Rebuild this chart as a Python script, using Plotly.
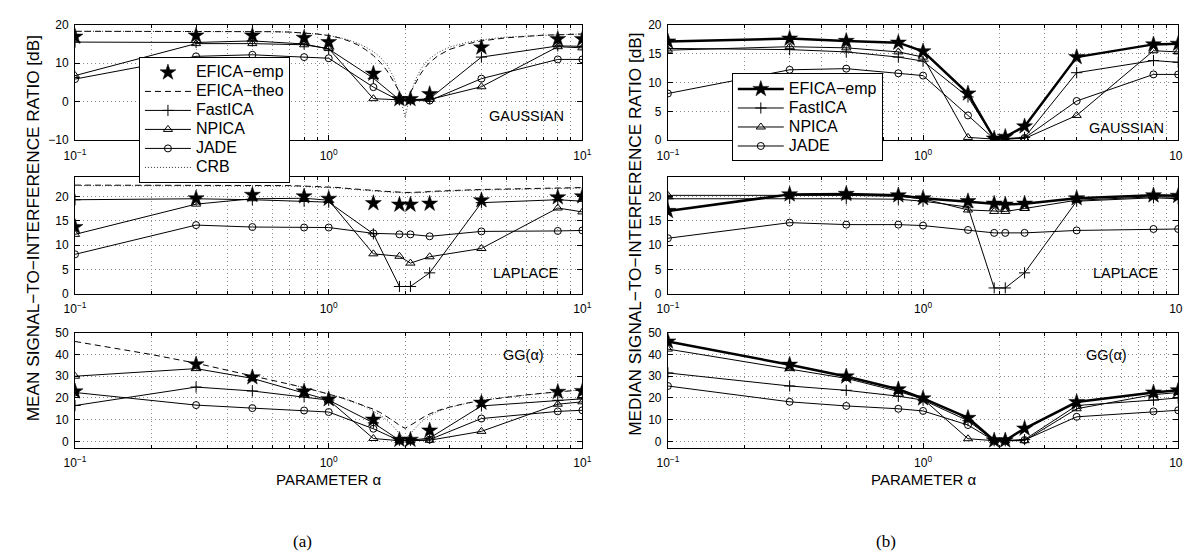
import plotly.graph_objects as go

W, H = 1191, 557

alpha = [0.1, 0.3, 0.5, 0.8, 1.0, 1.5, 1.9, 2.1, 2.5, 4.0, 8.0, 10.0]
alpha_theo = [0.1, 0.2, 0.3, 0.4, 0.5, 0.6, 0.7, 0.8, 0.9, 1.0, 1.1, 1.2, 1.3, 1.4, 1.5, 1.6, 1.7,
              1.8, 1.9, 2.0, 2.1, 2.2, 2.3, 2.4, 2.5, 2.7, 3.0, 3.5, 4.0, 5.0, 6.0, 7.0, 8.0, 9.0, 10.0]

x_tickvals = [0.1, 1, 10]
x_ticktext = ["10<sup>−1</sup>", "10<sup>0</sup>", "10<sup>1</sup>"]
x_minor = [0.2, 0.3, 0.4, 0.5, 0.6, 0.7, 0.8, 0.9, 2, 3, 4, 5, 6, 7, 8, 9]

# ---------- (a) MEAN ----------
mean_gauss_efica = [16.9, 17.2, 17.2, 16.6, 15.5, 7.3, 0.7, 0.7, 2.0, 14.1, 16.3, 16.3]
mean_gauss_fastica = [15.5, 15.4, 15.8, 15.0, 13.7, 6.1, 0.5, 0.5, 0.8, 11.6, 14.5, 14.4]
mean_gauss_npica = [6.8, 15.1, 15.1, 14.8, 13.8, 0.8, 0.5, 0.5, 0.6, 3.9, 14.3, 14.0]
mean_gauss_jade = [5.9, 11.8, 12.2, 11.6, 11.3, 3.8, 0.3, 0.3, 0.3, 6.0, 11.0, 11.0]
mean_gauss_theo = [18.3, 18.3, 18.3, 18.3, 18.3, 18.2, 18.1, 17.9, 17.6, 17.2, 16.6, 15.8, 14.8, 13.5,
                   12.0, 10.2, 8.0, 5.3, 2.4, 0.0, 2.4, 5.0, 7.2, 8.9, 10.2, 12.0, 13.6, 15.0, 15.8,
                   16.6, 17.0, 17.3, 17.4, 17.5, 17.6]
mean_gauss_crb = [18.3, 18.3, 18.3, 18.3, 18.3, 18.2, 18.1, 17.9, 17.6, 17.2, 16.7, 16.0, 15.2, 14.2,
                  13.0, 11.5, 9.5, 6.5, 2.0, -4.0, 2.0, 5.8, 8.3, 10.0, 11.2, 12.8, 14.2, 15.4, 16.1,
                  16.8, 17.1, 17.3, 17.4, 17.5, 17.6]

mean_lap_efica = [13.7, 19.6, 20.3, 20.0, 19.5, 18.6, 18.3, 18.3, 18.5, 19.2, 19.8, 20.0]
mean_lap_fastica = [19.3, 19.5, 19.3, 19.0, 18.8, 12.3, 1.5, 1.5, 4.3, 18.7, 19.3, 19.0]
mean_lap_npica = [12.2, 18.4, 19.5, 19.6, 19.2, 8.2, 7.7, 6.3, 7.6, 9.3, 17.6, 16.8]
mean_lap_jade = [8.1, 14.1, 13.7, 13.6, 13.6, 12.4, 12.2, 12.2, 11.8, 12.8, 12.9, 13.0]
mean_lap_theo = [22.3, 22.3, 22.3, 22.3, 22.3, 22.2, 22.2, 22.1, 22.0, 21.9, 21.8, 21.6, 21.5, 21.3,
                 21.2, 21.1, 21.0, 20.9, 20.8, 20.8, 20.8, 20.8, 20.9, 20.9, 21.0, 21.1, 21.2, 21.3,
                 21.4, 21.5, 21.6, 21.7, 21.7, 21.8, 21.8]
mean_lap_crb = [22.2, 22.2, 22.2, 22.2, 22.2, 22.1, 22.1, 22.0, 21.9, 21.8, 21.7, 21.5, 21.4, 21.2,
                21.1, 21.0, 20.9, 20.8, 20.7, 20.7, 20.7, 20.7, 20.8, 20.8, 20.9, 21.0, 21.1, 21.2,
                21.3, 21.4, 21.5, 21.6, 21.6, 21.7, 21.7]

mean_gg_efica = [23.0, 35.5, 29.5, 23.0, 19.4, 10.0, 0.7, 0.7, 5.0, 17.8, 22.8, 23.2]
mean_gg_fastica = [16.5, 25.0, 23.2, 20.5, 19.0, 8.5, 0.5, 0.5, 1.5, 16.3, 18.9, 19.6]
mean_gg_npica = [30.0, 33.5, 29.0, 22.0, 19.0, 1.3, 0.3, 0.3, 0.5, 4.6, 17.1, 18.2]
mean_gg_jade = [22.5, 16.7, 15.3, 14.2, 13.5, 5.8, 0.3, 0.3, 0.8, 10.5, 13.8, 14.3]
mean_gg_theo = [46.0, 40.0, 36.0, 32.8, 30.2, 28.2, 26.4, 24.8, 23.2, 21.8, 20.4, 19.0, 17.6, 16.2,
                14.8, 13.2, 11.4, 9.4, 7.4, 6.0, 7.4, 9.0, 10.4, 11.6, 12.6, 14.2, 15.8, 17.6, 18.8,
                20.4, 21.4, 22.2, 22.8, 23.3, 23.7]
mean_gg_crb = [None, None, None, None, None, None, 26.4, 24.8, 23.2, 21.8, 20.4, 19.0, 17.4, 15.8,
               14.0, 12.0, 9.6, 6.8, 3.6, 1.0, 3.6, 6.4, 8.6, 10.4, 11.8, 13.8, 15.6, 17.5, 18.8,
               20.4, 21.4, 22.2, 22.8, 23.3, 23.7]

# ---------- (b) MEDIAN ----------
med_gauss_efica = [17.1, 17.6, 17.2, 16.9, 15.4, 8.1, 0.3, 0.6, 2.4, 14.4, 16.6, 16.7]
med_gauss_fastica = [15.9, 15.7, 15.3, 14.4, 13.7, 7.5, 0.3, 0.3, 0.5, 11.7, 13.8, 13.5]
med_gauss_npica = [15.6, 16.2, 16.0, 15.3, 14.4, 0.5, 0.2, 0.2, 0.3, 4.3, 15.5, 15.3]
med_gauss_jade = [8.1, 12.2, 12.4, 11.6, 11.2, 4.3, 0.2, 0.2, 0.4, 6.8, 11.4, 11.4]

med_lap_efica = [17.0, 20.4, 20.5, 20.2, 19.6, 19.0, 18.5, 18.3, 18.5, 19.6, 20.2, 20.1]
med_lap_fastica = [19.5, 19.6, 19.5, 19.4, 19.0, 17.8, 1.2, 1.2, 4.3, 19.0, 19.7, 19.5]
med_lap_npica = [20.2, 20.3, 20.2, 20.0, 19.5, 17.2, 16.9, 16.9, 17.5, 19.2, 19.9, 19.8]
med_lap_jade = [11.4, 14.6, 14.2, 14.2, 14.0, 13.1, 12.5, 12.5, 12.5, 13.0, 13.3, 13.3]

med_gg_efica = [46.0, 35.3, 29.9, 24.0, 19.8, 10.8, 0.4, 0.4, 5.9, 18.1, 22.5, 23.5]
med_gg_fastica = [31.5, 25.5, 23.5, 20.8, 19.0, 9.5, 0.3, 0.3, 0.8, 16.5, 19.0, 20.0]
med_gg_npica = [42.5, 33.5, 29.0, 23.0, 19.5, 1.2, 0.3, 0.3, 0.3, 15.0, 21.5, 22.5]
med_gg_jade = [25.5, 18.2, 16.3, 15.0, 14.0, 7.5, 0.3, 0.3, 0.6, 11.3, 13.8, 14.3]

FONT = "Liberation Sans, Arial, Helvetica, sans-serif"
SERIF = "Liberation Serif, DejaVu Serif, serif"
GRID = "#8c8c8c"

fig = go.Figure()

# panel geometry (pixels)
cols = {"L": (57, 573), "R": (660, 1179)}
rows = [(10, 128.5), (166, 286), (326, 444)]
yranges = {"L": [[-10, 20], [0, 24], [-3, 50]], "R": [[0, 20], [0, 24], [-3, 50]]}
yticks = {"L": [[-10, 0, 10, 20], [0, 5, 10, 15, 20], [0, 10, 20, 30, 40, 50]],
          "R": [[0, 5, 10, 15, 20], [0, 5, 10, 15, 20], [0, 10, 20, 30, 40, 50]]}

ax_ids = {}
k = 0
for c in ["L", "R"]:
    for r in range(3):
        k += 1
        ax_ids[(c, r)] = k
        sx = "" if k == 1 else str(k)
        x0, x1 = cols[c]
        t, b = rows[r]
        fig.layout["xaxis" + sx] = dict(
            domain=[x0 / W, x1 / W], anchor="y" + sx, type="log", range=[-1, 1],
            tickvals=x_tickvals, ticktext=x_ticktext, ticks="inside", ticklen=5,
            tickcolor="black", showline=True, linecolor="black", linewidth=1, mirror="allticks",
            showgrid=True, gridcolor=GRID, griddash="1px,3px", gridwidth=1,
            tickfont=dict(family=FONT, size=12, color="black"), ticklabelstandoff=4,
            minor=dict(tickvals=x_minor, ticks="inside", ticklen=3, tickcolor="black",
                       showgrid=True, gridcolor=GRID, griddash="1px,3px", gridwidth=1),
            zeroline=False, fixedrange=True)
        fig.layout["yaxis" + sx] = dict(
            domain=[1 - b / H, 1 - t / H], anchor="x" + sx, range=yranges[c][r],
            tickvals=yticks[c][r], ticks="inside", ticklen=5, tickcolor="black",
            showline=True, linecolor="black", linewidth=1, mirror="allticks",
            showgrid=True, gridcolor=GRID, griddash="1px,3px", gridwidth=1,
            tickfont=dict(family=FONT, size=12, color="black"), ticklabelstandoff=3,
            zeroline=False, fixedrange=True)


def axref(c, r):
    n = ax_ids[(c, r)]
    s = "" if n == 1 else str(n)
    return "x" + s, "y" + s


def lg(name):
    return '<span style="font-size:16px">' + name + "</span>"


def add_line(c, r, x, y, name, show, legend, rank, **kw):
    xa, ya = axref(c, r)
    fig.add_trace(go.Scatter(x=x, y=y, name=lg(name), xaxis=xa, yaxis=ya, showlegend=show,
                             legend=legend, legendrank=rank, cliponaxis=True,
                             connectgaps=False, **kw))


thin = dict(color="black", width=1)
mk_plus = dict(symbol="cross-thin", size=8, color="black", line=dict(color="black", width=1))
mk_tri = dict(symbol="triangle-up-open", size=8, color="black", line=dict(color="black", width=1))
mk_circ = dict(symbol="circle-open", size=7, color="black", line=dict(color="black", width=1))
mk_star = dict(symbol="star", size=12, color="black", line=dict(color="black", width=0.5))

# ---- left column (a) ----
left_sets = [
    (mean_gauss_efica, mean_gauss_theo, mean_gauss_fastica, mean_gauss_npica, mean_gauss_jade, mean_gauss_crb),
    (mean_lap_efica, mean_lap_theo, mean_lap_fastica, mean_lap_npica, mean_lap_jade, mean_lap_crb),
    (mean_gg_efica, mean_gg_theo, mean_gg_fastica, mean_gg_npica, mean_gg_jade, mean_gg_crb),
]
for r, (ef, th, fa, npi, ja, crb) in enumerate(left_sets):
    show = r == 0
    add_line("L", r, alpha_theo, th, "EFICA−theo", show, "legend", 2, mode="lines",
             line=dict(color="black", width=1, dash="6px,4px"))
    add_line("L", r, alpha_theo, crb, "CRB", show, "legend", 6, mode="lines",
             line=dict(color="#333333", width=1, dash="1px,2px"))
    add_line("L", r, alpha, fa, "FastICA", show, "legend", 3, mode="lines+markers", line=thin, marker=mk_plus)
    add_line("L", r, alpha, npi, "NPICA", show, "legend", 4, mode="lines+markers", line=thin, marker=mk_tri)
    add_line("L", r, alpha, ja, "JADE", show, "legend", 5, mode="lines+markers", line=thin, marker=mk_circ)
    add_line("L", r, alpha, ef, "EFICA−emp", show, "legend", 1, mode="markers", marker=mk_star)

# ---- right column (b) ----
right_sets = [
    (med_gauss_efica, med_gauss_fastica, med_gauss_npica, med_gauss_jade),
    (med_lap_efica, med_lap_fastica, med_lap_npica, med_lap_jade),
    (med_gg_efica, med_gg_fastica, med_gg_npica, med_gg_jade),
]
for r, (ef, fa, npi, ja) in enumerate(right_sets):
    show = r == 0
    add_line("R", r, alpha, fa, "FastICA", show, "legend2", 2, mode="lines+markers", line=thin, marker=mk_plus)
    add_line("R", r, alpha, npi, "NPICA", show, "legend2", 3, mode="lines+markers", line=thin, marker=mk_tri)
    add_line("R", r, alpha, ja, "JADE", show, "legend2", 4, mode="lines+markers", line=thin, marker=mk_circ)
    add_line("R", r, alpha, ef, "EFICA−emp", show, "legend2", 1, mode="lines+markers",
             line=dict(color="black", width=2.5), marker=mk_star)

legend_common = dict(bordercolor="black", borderwidth=1, bgcolor="white",
                     font=dict(family=FONT, size=12, color="black"),
                     xanchor="left", yanchor="top", tracegroupgap=0, itemwidth=46,
                     traceorder="normal")
fig.update_layout(
    width=W, height=H, margin=dict(l=0, r=0, t=0, b=0),
    paper_bgcolor="white", plot_bgcolor="white",
    legend=dict(x=122 / W, y=1 - 43 / H, **legend_common),
    legend2=dict(x=725 / W, y=1 - 60 / H, **legend_common),
)

ann = []


def text(x, y, s, size=14, angle=0, family=FONT):
    ann.append(dict(x=x / W, y=1 - y / H, xref="paper", yref="paper", text=s, showarrow=False,
                    textangle=angle, xanchor="center", yanchor="middle",
                    font=dict(family=family, size=size, color="black")))


for c, xc in (("L", 516), ("R", 1126)):
    text(xc, 104 if c == "L" else 116, "GAUSSIAN", 14.5)
    text(xc, 265, "LAPLACE", 14.5)
    text(xc - 3 if c == "L" else xc - 20, 349, "GG(α)", 14.5)

text(15, 219, "MEAN SIGNAL−TO−INTERFERENCE RATIO [dB]", 17.2, -90)
text(627, 225, "MEDIAN SIGNAL−TO−INTERFERENCE RATIO [dB]", 17.2, -90)
text(315, 476, "PARAMETER α", 15)
text(920, 476, "PARAMETER α", 15)
text(288, 540, "(a)", 17, family=SERIF)
text(882, 540, "(b)", 17, family=SERIF)
fig.update_layout(annotations=ann)

fig.write_html("out.html")
